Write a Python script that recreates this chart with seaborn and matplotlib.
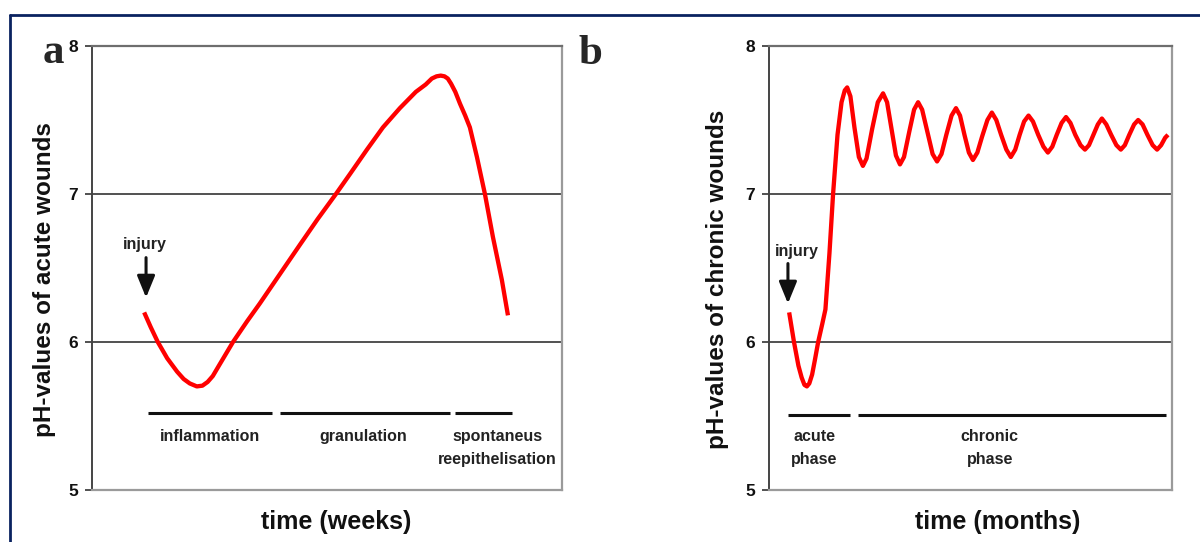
import matplotlib
matplotlib.use("Agg")
import matplotlib.pyplot as plt
import seaborn as sns
import pandas as pd
from matplotlib.lines import Line2D

# ---------------- data ----------------
# panel a: acute wounds (x in relative time units 0..100)
acute_x = [11.1, 12.5, 14.0, 16.0, 18.1, 19.5, 20.8, 22.3, 23.5, 24.6, 25.7,
           27.0, 28.5, 30.0, 33.0, 35.7, 40.0, 44.3, 48.0, 51.9, 55.0, 58.5,
           61.9, 65.5, 68.9, 71.0, 72.3, 73.3, 74.2, 75.0, 75.7, 76.4, 77.3,
           78.3, 79.4, 80.4, 81.9, 83.6, 85.3, 87.2, 88.5]
acute_ph = [6.20, 6.10, 6.00, 5.89, 5.80, 5.75, 5.72, 5.70, 5.705, 5.73, 5.77,
            5.84, 5.92, 6.00, 6.14, 6.26, 6.46, 6.66, 6.83, 7.00, 7.14, 7.30,
            7.45, 7.58, 7.69, 7.74, 7.78, 7.795, 7.80, 7.795, 7.78, 7.745, 7.69,
            7.61, 7.53, 7.45, 7.25, 7.00, 6.71, 6.42, 6.18]

# panel b: chronic wounds
chronic_x = [5.0, 6.2, 7.3, 8.1, 8.8, 9.4, 10.0, 10.7, 11.4, 12.2, 13.2, 14.0,
             15.0, 15.9, 17.0, 18.0, 18.8, 19.4, 20.2, 21.2, 22.3, 23.3, 24.2,
             25.6, 27.0, 28.3, 29.3, 30.4, 31.5, 32.5, 33.5, 34.8, 36.0, 37.0,
             38.0, 39.3, 40.6, 41.7, 42.8, 44.0, 45.3, 46.4, 47.4, 48.5, 49.6,
             50.6, 51.7, 52.9, 54.2, 55.3, 56.4, 57.6, 58.9, 60.0, 61.1, 62.2,
             63.3, 64.4, 65.5, 66.8, 68.1, 69.2, 70.3, 71.4, 72.6, 73.7, 74.8,
             76.0, 77.3, 78.4, 79.4, 80.5, 81.6, 82.6, 83.7, 84.9, 86.2, 87.3,
             88.3, 89.4, 90.6, 91.6, 92.7, 93.9, 95.2, 96.3, 97.3, 98.3, 99.0]
chronic_ph = [6.20, 6.00, 5.84, 5.76, 5.71, 5.70, 5.72, 5.78, 5.88, 6.00, 6.12,
              6.22, 6.60, 7.00, 7.40, 7.62, 7.70, 7.72, 7.66, 7.45, 7.25, 7.19,
              7.24, 7.44, 7.62, 7.68, 7.62, 7.44, 7.26, 7.20, 7.25, 7.42, 7.57,
              7.62, 7.57, 7.42, 7.27, 7.22, 7.27, 7.40, 7.53, 7.58, 7.53, 7.40,
              7.28, 7.23, 7.28, 7.39, 7.50, 7.55, 7.50, 7.40, 7.30, 7.25, 7.30,
              7.40, 7.49, 7.53, 7.49, 7.40, 7.32, 7.28, 7.32, 7.40, 7.48, 7.52,
              7.48, 7.40, 7.33, 7.30, 7.33, 7.40, 7.47, 7.51, 7.47, 7.40, 7.33,
              7.30, 7.33, 7.40, 7.47, 7.50, 7.47, 7.40, 7.33, 7.30, 7.33, 7.38,
              7.40]

yticks = [5, 6, 7, 8]

acute_phases = ["inflammation", "granulation", "spontaneus\nreepithelisation"]
acute_phase_start = [11.9, 40.0, 77.2]
acute_phase_end = [38.3, 76.2, 89.4]
acute_phase_center = [25.1, 57.7, 86.2]

chronic_phases = ["acute\nphase", "chronic\nphase"]
chronic_phase_start = [4.7, 22.1]
chronic_phase_end = [20.1, 98.5]
chronic_phase_center = [11.2, 54.8]

# ---------------- style ----------------
sns.set_theme(style="white")
plt.rcParams["font.family"] = ["Liberation Sans", "DejaVu Sans"]

fig = plt.figure(figsize=(12, 5.42), dpi=100)
ax_a = fig.add_axes([92 / 1200, 1 - 490 / 542, 470 / 1200, 444 / 542])
ax_b = fig.add_axes([769 / 1200, 1 - 490 / 542, 403 / 1200, 444 / 542])

RED = "#ff0000"


def style_axes(ax, ylabel, xlabel, ylab_x, xlab_x):
    ax.set_xlim(0, 100)
    ax.set_ylim(5, 8)
    ax.set_yticks(yticks)
    ax.set_yticklabels([str(t) for t in yticks], fontsize=12.5, fontweight="bold",
                       color="#111111")
    ax.set_xticks([])
    ax.tick_params(axis="y", direction="out", length=5, width=1.2,
                   color="#333333", pad=5, left=True)
    for g in (6, 7):
        ax.axhline(g, color="#222222", lw=1.1, zorder=1)
    ax.spines["left"].set_color("#444444")
    ax.spines["left"].set_linewidth(1.4)
    for s in ("right", "top", "bottom"):
        ax.spines[s].set_color("#9a9a9a")
        ax.spines[s].set_linewidth(1.6)
    ax.spines["top"].set_color("#6e6e6e")
    ax.set_ylabel(ylabel, fontsize=17.5, fontweight="bold", color="#111111")
    ax.yaxis.set_label_coords(ylab_x, 0.475)
    ax.yaxis.label.set_va("center")
    ax.set_xlabel(xlabel, fontsize=18, fontweight="bold", color="#111111")
    ax.xaxis.set_label_coords(xlab_x, -0.072)
    ax.xaxis.label.set_va("center")
    ax.set_facecolor("white")


line_kw = dict(color=RED, lw=3.1, sort=False, estimator=None, zorder=3,
               solid_joinstyle="round", solid_capstyle="butt")

# panel a
df_a = pd.DataFrame({"time": acute_x, "pH": acute_ph})
sns.lineplot(data=df_a, x="time", y="pH", ax=ax_a, **line_kw)
style_axes(ax_a, "pH-values of acute wounds", "time (weeks)", -0.102, 0.519)
ax_a.hlines([5.52] * len(acute_phases), acute_phase_start, acute_phase_end,
            color="#111111", lw=2.2)
for name, cx in zip(acute_phases, acute_phase_center):
    ax_a.text(cx, 5.41, name, ha="center", va="top", fontsize=11.5,
              fontweight="bold", color="#222222", linespacing=1.6)
ax_a.annotate("", xy=(11.5, 6.30), xytext=(11.5, 6.57),
              arrowprops=dict(arrowstyle="-|>,head_length=1.1,head_width=0.45",
                              color="#111111", lw=2.2, shrinkA=0, shrinkB=0))
ax_a.text(11.3, 6.66, "injury", ha="center", va="center", fontsize=11.5,
          fontweight="bold", color="#222222")

# panel b
df_b = pd.DataFrame({"time": chronic_x, "pH": chronic_ph})
sns.lineplot(data=df_b, x="time", y="pH", ax=ax_b, **line_kw)
style_axes(ax_b, "pH-values of chronic wounds", "time (months)", -0.129, 0.568)
ax_b.hlines([5.51] * len(chronic_phases), chronic_phase_start, chronic_phase_end,
            color="#111111", lw=2.2)
for name, cx in zip(chronic_phases, chronic_phase_center):
    ax_b.text(cx, 5.41, name, ha="center", va="top", fontsize=11.5,
              fontweight="bold", color="#222222", linespacing=1.6)
ax_b.annotate("", xy=(4.7, 6.26), xytext=(4.7, 6.53),
              arrowprops=dict(arrowstyle="-|>,head_length=1.1,head_width=0.45",
                              color="#111111", lw=2.2, shrinkA=0, shrinkB=0))
ax_b.text(6.9, 6.61, "injury", ha="center", va="center", fontsize=11.5,
          fontweight="bold", color="#222222")

# panel letters
fig.text(53 / 1200, 1 - 63 / 542, "a", fontsize=31, fontweight="bold",
         family=["Liberation Serif", "DejaVu Serif"], ha="center", va="baseline")
fig.text(590 / 1200, 1 - 64 / 542, "b", fontsize=31, fontweight="bold",
         family=["Liberation Serif", "DejaVu Serif"], ha="center", va="baseline")

# outer navy frame (left and top edges visible)
NAVY = "#0a2260"
fig.add_artist(Line2D([10 / 1200, 10 / 1200], [0, 1 - 14.5 / 542],
                      transform=fig.transFigure, color=NAVY, lw=2.0))
fig.add_artist(Line2D([10 / 1200, 1], [1 - 14.5 / 542, 1 - 14.5 / 542],
                      transform=fig.transFigure, color=NAVY, lw=2.0))

fig.savefig("out.png", dpi=100, facecolor="white")
